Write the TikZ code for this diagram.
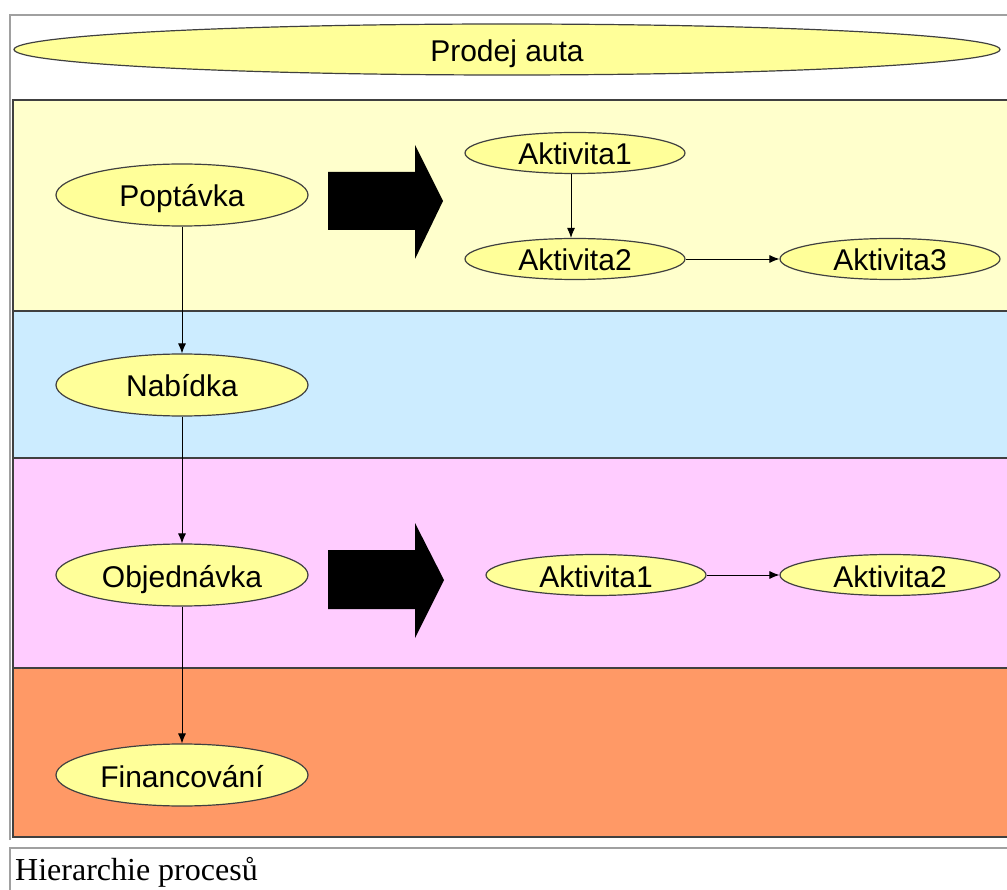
\documentclass[tikz,border=0pt]{standalone}
\usepackage{fontspec}
\setmainfont{Liberation Serif}
\newfontfamily\labelfont{Liberation Sans}
\usetikzlibrary{shapes.geometric,arrows.meta}
\definecolor{framegray}{HTML}{A0A0A0}
\definecolor{edgegray}{HTML}{404040}
\definecolor{procfill}{HTML}{FFFF99}
\definecolor{laneyellow}{HTML}{FFFFCC}
\definecolor{laneblue}{HTML}{CCECFF}
\definecolor{lanepink}{HTML}{FFCCFF}
\definecolor{laneorange}{HTML}{FF9966}
\begin{document}
\begin{tikzpicture}[x=1pt,y=-1pt,
  frame/.style={framegray,line width=2pt},
  lane/.style={draw=edgegray,line width=1.5pt},
  proc/.style={ellipse,draw=edgegray,line width=1.2pt,fill=procfill,inner sep=0pt,
    text height=24pt,text depth=0pt,
    font=\labelfont\fontsize{30}{34}\selectfont},
  big/.style={proc,minimum width=252,minimum height=62},
  small/.style={proc,minimum width=220,minimum height=41},
  flow/.style={black,line width=0.9pt,-{Latex[length=10pt,width=8pt]}},
  blockarrow/.style={fill=black}]
\useasboundingbox (0,0) rectangle (1007,890);

% table cell borders
\draw[frame] (9.5,840) -- (9.5,15) -- (1012,15);
\draw[frame] (9.5,895) -- (9.5,848) -- (1012,848);

% swimlanes
\draw[lane,fill=laneyellow] (13,100) rectangle (1015,311);
\draw[lane,fill=laneblue]   (13,311) rectangle (1015,458);
\draw[lane,fill=lanepink]   (13,458) rectangle (1015,668);
\draw[lane,fill=laneorange] (13,668) rectangle (1015,837);

% title
\node[proc,minimum width=986,minimum height=51] (title) at (507,49.5) {Prodej auta};

% main process
\node[big] (pop) at (182,195) {Poptávka};
\node[big] (nab) at (182,385) {Nabídka};
\node[big] (obj) at (182,575) {Objednávka};
\node[big] (fin) at (182,775) {Financování};

% refinement arrows
\fill[blockarrow] (328,172) -- (415,172) -- (415,145) -- (443,201) -- (415,259)
  -- (415,230) -- (328,230) -- cycle;
\fill[blockarrow] (328,550) -- (415,550) -- (415,523) -- (444,580) -- (415,638)
  -- (415,609) -- (328,609) -- cycle;

% sub-activities
\node[small] (a1) at (575,153) {Aktivita1};
\node[small] (a2) at (575,259) {Aktivita2};
\node[small] (a3) at (890,259) {Aktivita3};
\node[small] (b1) at (596,575) {Aktivita1};
\node[small] (b2) at (890,575) {Aktivita2};

% connectors
\draw[flow] (pop) -- (nab);
\draw[flow] (nab) -- (obj);
\draw[flow] (obj) -- (fin);
\draw[flow] ([xshift=-4pt]a1.south) -- ([xshift=-4pt]a2.north);
\draw[flow] (a2) -- (a3);
\draw[flow] (b1) -- (b2);

% caption
\node[anchor=base west,inner sep=0pt,font=\fontsize{32}{36}\selectfont] (cap) at (15,880) {Hierarchie procesů};
\end{tikzpicture}
\end{document}
